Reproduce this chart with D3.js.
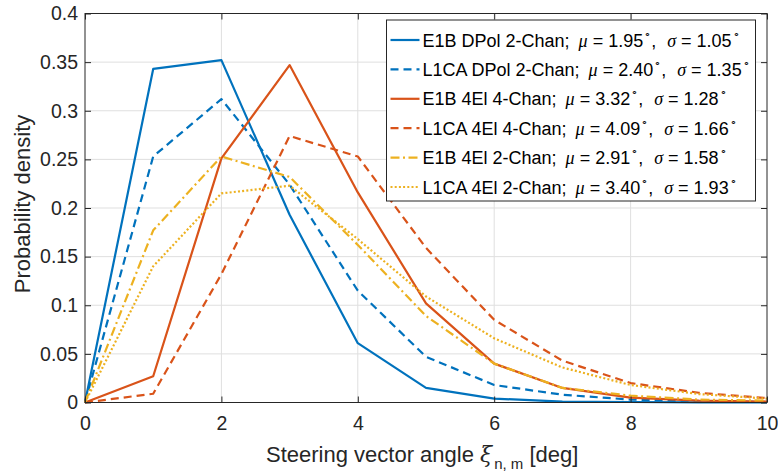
<!DOCTYPE html>
<html>
<head>
<meta charset="utf-8">
<script src="https://cdn.jsdelivr.net/npm/d3@7"></script>
<style>
  body { margin: 0; background: #fff; }
  svg { font-family: "Liberation Sans", Arial, Helvetica, sans-serif; }
  .grid line { stroke: #dfdfdf; stroke-width: 1; }
  .axis text { fill: #262626; font-size: 19.5px; }
</style>
</head>
<body>
<div id="chart"></div>
<script>
// steering vector angle bins [deg]
const angles = [0, 1, 2, 3, 4, 5, 6, 7, 8, 9, 10];

// probability densities
const e1bDpol2 = [0, 0.343, 0.352, 0.193, 0.061, 0.015, 0.004, 0.001, 0.0005, 0.0002, 0.0001];
const l1caDpol2 = [0, 0.253, 0.312, 0.224, 0.115, 0.047, 0.018, 0.008, 0.003, 0.001, 0.0005];
const e1b4el4 = [0, 0.027, 0.251, 0.347, 0.216, 0.102, 0.040, 0.015, 0.005, 0.002, 0.001];
const l1ca4el4 = [0, 0.009, 0.132, 0.274, 0.253, 0.159, 0.085, 0.043, 0.020, 0.010, 0.0045];
const e1b4el2 = [0, 0.177, 0.253, 0.232, 0.162, 0.089, 0.040, 0.015, 0.007, 0.003, 0.002];
const l1ca4el2 = [0, 0.140, 0.215, 0.223, 0.168, 0.109, 0.066, 0.036, 0.018, 0.0087, 0.004];

const seriesNames = [
  {label: "E1B DPol 2-Chan;", mu: "1.95", sigma: "1.05"},
  {label: "L1CA DPol 2-Chan;", mu: "2.40", sigma: "1.35"},
  {label: "E1B 4El 4-Chan;", mu: "3.32", sigma: "1.28"},
  {label: "L1CA 4El 4-Chan;", mu: "4.09", sigma: "1.66"},
  {label: "E1B 4El 2-Chan;", mu: "2.91", sigma: "1.58"},
  {label: "L1CA 4El 2-Chan;", mu: "3.40", sigma: "1.93"}
];
const seriesValues = [e1bDpol2, l1caDpol2, e1b4el4, l1ca4el4, e1b4el2, l1ca4el2];

const xTicks = [0, 2, 4, 6, 8, 10];
const yTicks = [0, 0.05, 0.1, 0.15, 0.2, 0.25, 0.3, 0.35, 0.4];

const blue = "#0072BD", orange = "#D95319", yellow = "#EDB120";
const styles = [
  {color: blue, dash: null},
  {color: blue, dash: "8,5"},
  {color: orange, dash: null},
  {color: orange, dash: "8,5"},
  {color: yellow, dash: "9,3.5,2,3.5"},
  {color: yellow, dash: "2,2.2"}
];

const width = 778, height = 475;
const margin = {top: 13.5, right: 11, bottom: 72.5, left: 85};
const innerW = width - margin.left - margin.right;
const innerH = height - margin.top - margin.bottom;

const svg = d3.select("#chart").append("svg")
  .attr("width", width)
  .attr("height", height);

const g = svg.append("g")
  .attr("transform", `translate(${margin.left},${margin.top})`);

const x = d3.scaleLinear().domain([0, 10]).range([0, innerW]);
const y = d3.scaleLinear().domain([0, 0.4]).range([innerH, 0]);

// grid
g.append("g").attr("class", "grid")
  .selectAll("line.v").data(xTicks.slice(1, -1)).enter().append("line")
  .attr("x1", d => x(d)).attr("x2", d => x(d))
  .attr("y1", 0).attr("y2", innerH);
g.append("g").attr("class", "grid")
  .selectAll("line.h").data(yTicks.slice(1, -1)).enter().append("line")
  .attr("x1", 0).attr("x2", innerW)
  .attr("y1", d => y(d)).attr("y2", d => y(d));

// lines
const line = d3.line()
  .x((d, i) => x(angles[i]))
  .y(d => y(d));

seriesValues.forEach((vals, i) => {
  g.append("path")
    .datum(vals)
    .attr("fill", "none")
    .attr("stroke", styles[i].color)
    .attr("stroke-width", 2.2)
    .attr("stroke-dasharray", styles[i].dash)
    .attr("stroke-linejoin", "round")
    .attr("d", line);
});

// axes (ticks inward, box on)
const tickLen = 6;
g.append("g").attr("class", "axis")
  .attr("transform", `translate(0,${innerH})`)
  .call(d3.axisBottom(x).tickValues(xTicks).tickSizeInner(-tickLen).tickSizeOuter(0).tickPadding(14).tickFormat(d3.format("d")));
g.append("g").attr("class", "axis")
  .call(d3.axisLeft(y).tickValues(yTicks).tickSizeInner(-tickLen).tickSizeOuter(0).tickPadding(7).tickFormat(d => d === 0 ? "0" : String(+d.toFixed(2))));
g.append("g").attr("class", "axis")
  .call(d3.axisTop(x).tickValues(xTicks).tickSizeInner(-tickLen).tickSizeOuter(0).tickFormat(""));
g.append("g").attr("class", "axis")
  .attr("transform", `translate(${innerW},0)`)
  .call(d3.axisRight(y).tickValues(yTicks).tickSizeInner(-tickLen).tickSizeOuter(0).tickFormat(""));
g.selectAll(".axis path.domain").remove();
g.selectAll(".axis line").attr("stroke", "#262626");

g.append("rect")
  .attr("width", innerW).attr("height", innerH)
  .attr("fill", "none").attr("stroke", "#262626").attr("stroke-width", 1);

// axis labels
const xl = svg.append("text")
  .attr("x", 266)
  .attr("y", 461.5)
  .attr("fill", "#262626")
  .style("font-size", "22px");
xl.append("tspan").text("Steering vector angle ");
xl.append("tspan").text("ξ").style("font-family", "'DejaVu Serif', 'Liberation Serif', serif").style("font-style", "italic");
xl.append("tspan").text("n, m").attr("dx", 2).attr("dy", 7).style("font-size", "15px");
xl.append("tspan").text(" [deg]").attr("dy", -7);

svg.append("text")
  .attr("transform", `translate(29.5,204) rotate(-90)`)
  .attr("text-anchor", "middle")
  .attr("fill", "#262626")
  .style("font-size", "22px")
  .text("Probability density");

// legend
const lg = svg.append("g").attr("transform", "translate(386.5,20)");
lg.append("rect")
  .attr("width", 369).attr("height", 181)
  .attr("fill", "#fff").attr("stroke", "#262626").attr("stroke-width", 1);

const rowH = 29.4;
seriesNames.forEach((s, i) => {
  const cy = 20 + i * rowH;
  lg.append("line")
    .attr("x1", 4).attr("x2", 33)
    .attr("y1", cy).attr("y2", cy)
    .attr("stroke", styles[i].color)
    .attr("stroke-width", 2.2)
    .attr("stroke-dasharray", styles[i].dash);
  const t = lg.append("text")
    .attr("x", 36).attr("y", cy + 6.5)
    .attr("fill", "#000")
    .style("font-size", "18px");
  t.append("tspan").text(s.label + " ");
  t.append("tspan").text("μ").attr("dx", 4).style("font-family", "'Liberation Serif', serif").style("font-style", "italic");
  t.append("tspan").text(" = " + s.mu);
  t.append("tspan").text("∘").attr("dx", 1).attr("dy", -9).style("font-size", "11px");
  t.append("tspan").text(", ").attr("dy", 9);
  t.append("tspan").text("σ").attr("dx", 6).style("font-family", "'Liberation Serif', serif").style("font-style", "italic");
  t.append("tspan").text(" = " + s.sigma);
  t.append("tspan").text("∘").attr("dx", 1).attr("dy", -9).style("font-size", "11px");
});
</script>
</body>
</html>
